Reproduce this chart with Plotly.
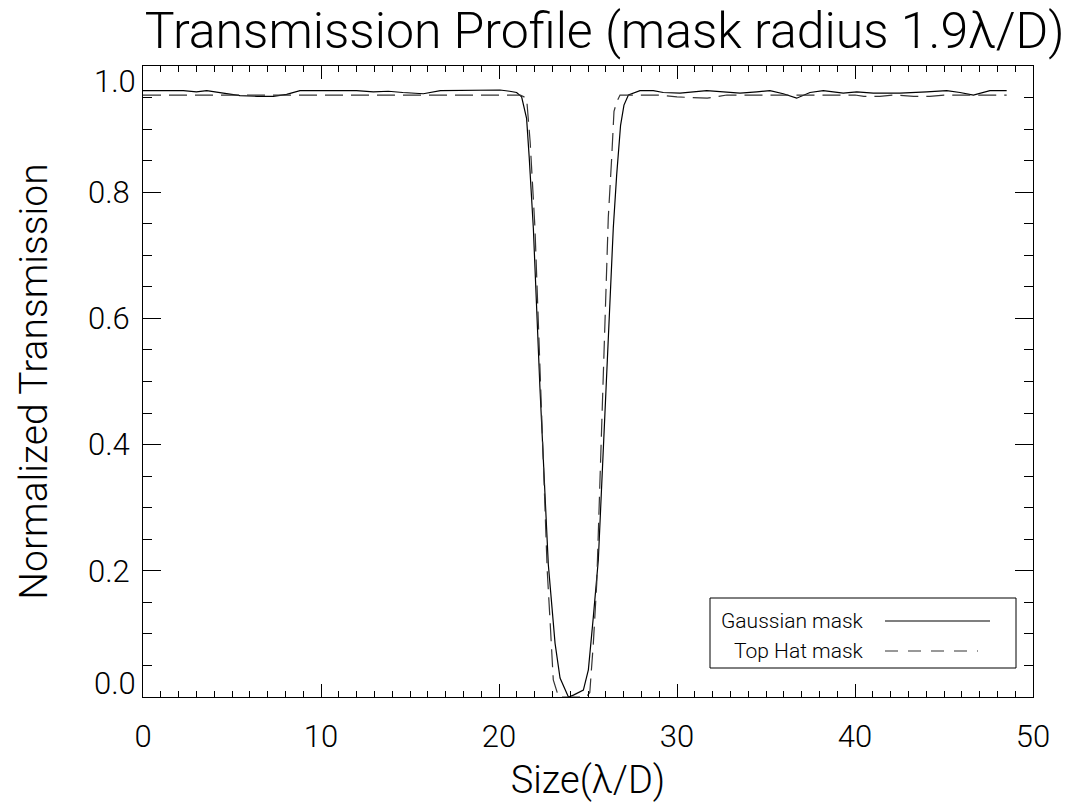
import plotly.graph_objects as go

# ---- data ----
X_GAUSS = [0, 1.0, 2.27, 3.0, 3.58, 4.51, 5.45, 6.4, 7.32, 8.07, 8.82, 10.5, 12.0, 12.94,
           13.78, 14.6, 15.75, 16.71, 18.0, 19.2, 20.06, 20.6, 20.99, 21.27, 21.55, 21.70,
           21.84, 21.93, 22.30, 22.77, 23.15, 23.43, 23.90, 24.18, 24.74, 25.02, 25.30,
           25.58, 26.0, 26.42, 26.61, 26.83, 27.02, 27.27, 27.92, 28.67, 29.23, 30.17,
           31.67, 32.60, 33.54, 34.48, 35.22, 35.97, 36.72, 37.47, 38.22, 39.34, 40.10,
           41.03, 42.53, 44.03, 45.15, 45.90, 46.65, 47.58, 48.52]
Y_GAUSS = [0.961, 0.961, 0.961, 0.959, 0.961, 0.957, 0.953, 0.952, 0.952, 0.955, 0.961,
           0.961, 0.961, 0.959, 0.960, 0.958, 0.956, 0.961, 0.961, 0.961, 0.962, 0.960,
           0.958, 0.951, 0.917, 0.854, 0.790, 0.743, 0.490, 0.210, 0.085, 0.030, 0.000,
           0.003, 0.011, 0.043, 0.127, 0.217, 0.480, 0.743, 0.827, 0.906, 0.938, 0.954,
           0.961, 0.961, 0.958, 0.957, 0.961, 0.959, 0.957, 0.959, 0.961, 0.956, 0.949,
           0.958, 0.961, 0.957, 0.959, 0.957, 0.957, 0.959, 0.961, 0.958, 0.954, 0.961,
           0.961]

X_TOPHAT = [0, 21.2, 21.55, 21.75, 22.02, 22.35, 22.71, 22.87, 23.05, 23.35, 24.0, 24.9,
            25.1, 25.3, 25.49, 25.8, 26.14, 26.33, 26.46, 26.61, 26.8, 29.0, 30.0, 31.7,
            32.8, 40.0, 40.5, 41.4, 42.2, 43.3, 44.2, 45.0, 48.52]
Y_TOPHAT = [0.954, 0.954, 0.949, 0.880, 0.743, 0.490, 0.200, 0.120, 0.027, 0.000, 0.000,
            0.000, 0.007, 0.085, 0.180, 0.460, 0.760, 0.854, 0.928, 0.943, 0.954, 0.954,
            0.951, 0.949, 0.954, 0.954, 0.952, 0.952, 0.954, 0.952, 0.952, 0.954, 0.954]

X_TICKS = [0, 10, 20, 30, 40, 50]
X_TICK_LABELS = ["0", "10", "20", "30", "40", "50"]
Y_TICKS = [0.0, 0.2, 0.4, 0.6, 0.8, 1.0]
Y_TICK_LABELS = ["0.0", "0.2", "0.4", "0.6", "0.8", "1.0"]

SERIES_NAMES = ["Gaussian mask", "Top Hat mask"]
TITLE = "Transmission Profile (mask radius 1.9λ/D)"
X_TITLE = "Size(λ/D)"
Y_TITLE = "Normalized Transmission"

FONT = "Roboto"
W, H = 1078, 811
L, R, T, B = 143, 45, 66, 114

fig = go.Figure()
fig.add_trace(go.Scatter(x=X_GAUSS, y=Y_GAUSS, mode="lines", name=SERIES_NAMES[0],
                         line=dict(color="black", width=1.2), showlegend=False))
fig.add_trace(go.Scatter(x=X_TOPHAT, y=Y_TOPHAT, mode="lines", name=SERIES_NAMES[1],
                         line=dict(color="#333333", width=1.2, dash="18px,8px"),
                         showlegend=False))

# inner y labels: end labels kept inside the frame as in the reference
inner_text = [t if 0 < v < 1 else "" for v, t in zip(Y_TICKS, Y_TICK_LABELS)]

axis_common = dict(showline=True, linecolor="black", linewidth=1, mirror="allticks",
                   ticks="inside", tickcolor="black", tickwidth=1, showgrid=False,
                   zeroline=False, tickfont=dict(family=FONT, size=31, color="black", weight=300))

fig.update_xaxes(range=[0, 50], tickvals=X_TICKS, ticktext=X_TICK_LABELS, ticklen=12.6,
                 minor=dict(dtick=1, ticks="inside", ticklen=6.3, tickcolor="black", tickwidth=1),
                 title=dict(text=X_TITLE, font=dict(family=FONT, size=38, color="black", weight=300),
                            standoff=12),
                 ticklabelstandoff=12,
                 **axis_common)
fig.update_yaxes(range=[0, 1], tickvals=Y_TICKS, ticktext=inner_text, ticklen=17.8,
                 minor=dict(dtick=0.05, ticks="inside", ticklen=8.9, tickcolor="black", tickwidth=1),
                 title=dict(text=Y_TITLE, font=dict(family=FONT, size=39, color="black", weight=300),
                            standoff=28),
                 ticklabelstandoff=6,
                 **axis_common)

# end labels of the y axis
for v, t in zip(Y_TICKS, Y_TICK_LABELS):
    if v in (0.0, 1.0):
        fig.add_annotation(x=0, xref="paper", xanchor="right", xshift=-6,
                           y=v, yref="y", yanchor="bottom" if v == 0 else "top",
                           yshift=-6 if v == 0 else 4,
                           text=t, showarrow=False, borderpad=0,
                           font=dict(family=FONT, size=31, color="black", weight=300))

# legend box drawn IDL-style (text then line sample)
def px(xp):
    return (xp - L) / (W - L - R)

def py(yp):
    return (H - B - yp) / (H - T - B)

fig.add_shape(type="rect", xref="paper", yref="paper", x0=px(710), x1=px(1016),
              y0=py(668), y1=py(598), line=dict(color="black", width=1))
legend_rows = [(621, "solid", "black", 885, 990), (651, "13px,10px", "#333333", 885, 978)]
for (ypix, dash, col, lx0, lx1), name in zip(legend_rows, SERIES_NAMES):
    fig.add_annotation(x=px(866), xref="paper", xanchor="right", y=py(ypix), yref="paper",
                       yanchor="middle", text=name, showarrow=False,
                       font=dict(family=FONT, size=21, color="black", weight=300))
    fig.add_shape(type="line", xref="paper", yref="paper", x0=px(lx0), x1=px(lx1),
                  y0=py(ypix), y1=py(ypix), line=dict(color=col, width=1.2, dash=dash))

fig.update_layout(
    width=W, height=H, margin=dict(l=L, r=R, t=T, b=B),
    paper_bgcolor="white", plot_bgcolor="white",
    title=dict(text=TITLE, x=0.561, xanchor="center", y=1 - 30 / H, yanchor="middle",
               xref="container",
               font=dict(family=FONT, size=50, color="black", weight=300)),
)

fig.write_html("out.html")
